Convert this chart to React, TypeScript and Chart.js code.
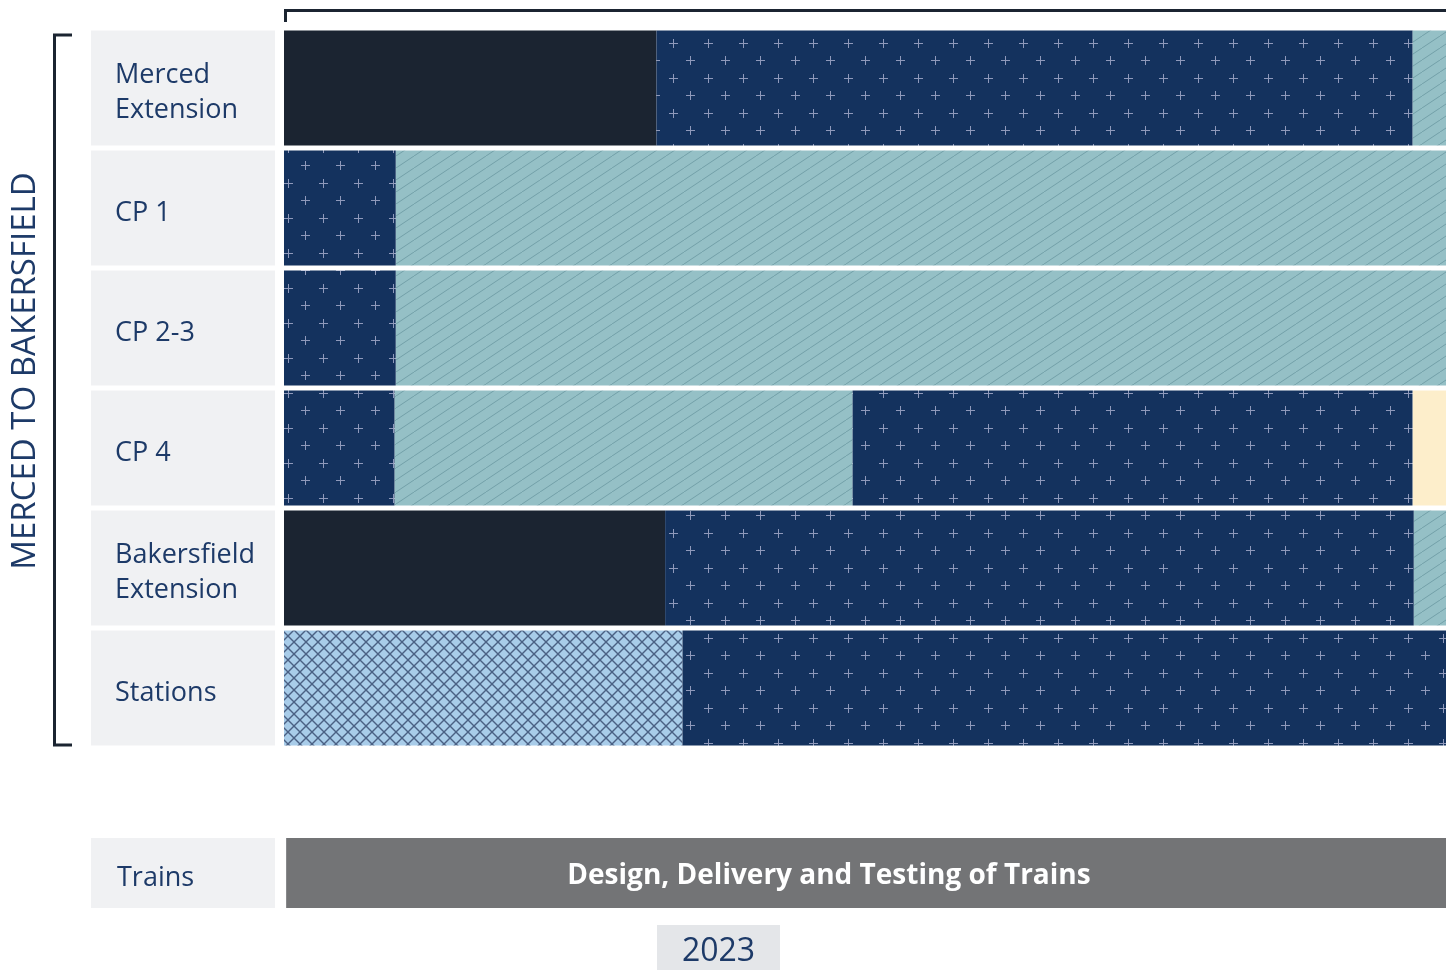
import React, { useEffect, useRef } from 'react';
import { Chart, registerables } from 'chart.js';

Chart.register(...registerables);

// ---------- data ----------
const rowCategories = ['Merced Extension', 'CP 1', 'CP 2-3', 'CP 4', 'Bakersfield Extension', 'Stations'];
const rowLabelLines = [['Merced', 'Extension'], ['CP 1'], ['CP 2-3'], ['CP 4'], ['Bakersfield', 'Extension'], ['Stations']];

// spans in years [start, end]
const designSpans = [[2020, 2023.0], null, null, null, [2020, 2023.07], null];
const constructionSpans = [[2023.0, 2029.09], [2020, 2020.9], [2020, 2020.9], [2020, 2020.89], [2023.07, 2029.1], [2023.21, 2030]];
const constructionSpans2 = [null, null, null, [2024.58, 2029.09], null, null];
const systemsSpans = [[2029.09, 2030], [2020.9, 2030], [2020.9, 2030], [2020.89, 2024.58], [2029.1, 2030], null];
const stationDesignSpans = [null, null, null, null, null, [2020, 2023.21]];
const testingSpans = [null, null, null, [2029.09, 2030], null, null];

const trainsCategories = ['Trains'];
const trainsSpans = [[2020.02, 2030]];
const trainsCaption = 'Design, Delivery and Testing of Trains';
const trainsCaptionAt = 2024.39;

const groupTitle = 'MERCED TO BAKERSFIELD';
const yearMarkers = [2023];
const xMin = 2020;
const xMax = 2029.36;

// ---------- style ----------
const FONT = "'Open Sans', 'Noto Sans', sans-serif";
const NAVY_TEXT = '#1d3a68';
const DARK = '#1b2431';
const NAVY = '#14325e';
const PANEL = '#f0f1f3';

function plusPattern(): CanvasPattern | string {
  const c = document.createElement('canvas');
  c.width = 35; c.height = 35;
  const g = c.getContext('2d');
  if (!g) return NAVY;
  g.fillStyle = NAVY; g.fillRect(0, 0, 35, 35);
  g.fillStyle = '#8f99bb';
  const plus = (cx: number, cy: number) => {
    g.fillRect(cx - 4, cy, 9, 1);
    g.fillRect(cx, cy - 4, 1, 9);
  };
  plus(8, 8); plus(25, 25);
  return g.createPattern(c, 'repeat') as CanvasPattern;
}

function hatchPattern(): CanvasPattern | string {
  const w = 18, h = 12;
  const c = document.createElement('canvas');
  c.width = w; c.height = h;
  const g = c.getContext('2d');
  if (!g) return '#95c0c6';
  g.fillStyle = '#95c0c6'; g.fillRect(0, 0, w, h);
  g.strokeStyle = '#72a0a8'; g.lineWidth = 1;
  for (const dx of [-w, 0, w]) {
    g.beginPath(); g.moveTo(dx, h); g.lineTo(dx + w, 0); g.stroke();
  }
  return g.createPattern(c, 'repeat') as CanvasPattern;
}

function crossPattern(): CanvasPattern | string {
  const s = 12;
  const c = document.createElement('canvas');
  c.width = s; c.height = s;
  const g = c.getContext('2d');
  if (!g) return '#a8cce9';
  g.fillStyle = '#a8cce9'; g.fillRect(0, 0, s, s);
  g.strokeStyle = '#4a6084'; g.lineWidth = 1.4;
  for (const dx of [-s, 0, s]) {
    g.beginPath(); g.moveTo(dx, 0); g.lineTo(dx + s, s); g.stroke();
    g.beginPath(); g.moveTo(dx, s); g.lineTo(dx + s, 0); g.stroke();
  }
  return g.createPattern(c, 'repeat') as CanvasPattern;
}

function drawPanels(chart: any, lines: string[][], textX: number) {
  const ctx = chart.ctx as CanvasRenderingContext2D;
  const meta = chart.getDatasetMeta(0);
  ctx.save();
  meta.data.forEach((el: any, i: number) => {
    const props = el.getProps(['y', 'height'], true);
    const top = props.y - props.height / 2;
    ctx.fillStyle = PANEL;
    ctx.fillRect(91, top, 184, props.height);
    ctx.fillStyle = NAVY_TEXT;
    ctx.font = `27px ${FONT}`;
    ctx.textBaseline = 'middle';
    ctx.textAlign = 'left';
    const lh = 35;
    const ls = lines[i];
    ls.forEach((t, k) => {
      ctx.fillText(t, textX, props.y + (k - (ls.length - 1) / 2) * lh + 5);
    });
  });
  ctx.restore();
}

const mainDecor = {
  id: 'mainDecor',
  afterDraw(chart: any) {
    const ctx = chart.ctx as CanvasRenderingContext2D;
    drawPanels(chart, rowLabelLines, 115);
    const ca = chart.chartArea;
    ctx.save();
    ctx.strokeStyle = DARK;
    ctx.lineWidth = 3;
    // left bracket
    ctx.beginPath();
    ctx.moveTo(72, ca.top + 7);
    ctx.lineTo(54.5, ca.top + 7);
    ctx.lineTo(54.5, ca.bottom - 3);
    ctx.lineTo(72, ca.bottom - 3);
    ctx.stroke();
    // top bracket
    ctx.beginPath();
    ctx.moveTo(ca.left + 1.5, 22);
    ctx.lineTo(ca.left + 1.5, 10.5);
    ctx.lineTo(ca.right, 10.5);
    ctx.stroke();
    // group title
    ctx.translate(26, (ca.top + ca.bottom) / 2 - 17);
    ctx.rotate(-Math.PI / 2);
    ctx.fillStyle = NAVY_TEXT;
    ctx.font = `33px ${FONT}`;
    ctx.textAlign = 'center';
    ctx.textBaseline = 'middle';
    ctx.fillText(groupTitle, 0, 0);
    ctx.restore();
  },
};

const trainsDecor = {
  id: 'trainsDecor',
  afterDraw(chart: any) {
    const ctx = chart.ctx as CanvasRenderingContext2D;
    drawPanels(chart, [['Trains']], 117);
    const x = chart.scales.x;
    const meta = chart.getDatasetMeta(0);
    const el = meta.data[0];
    ctx.save();
    ctx.fillStyle = '#ffffff';
    ctx.font = `bold 28px ${FONT}`;
    ctx.textAlign = 'center';
    ctx.textBaseline = 'middle';
    ctx.fillText(trainsCaption, x.getPixelForValue(trainsCaptionAt), el.y + 3);
    // year marker
    yearMarkers.forEach((yr) => {
      const cx = x.getPixelForValue(yr + 0.5);
      const top = chart.chartArea.bottom + 17;
      ctx.fillStyle = '#e4e6e9';
      ctx.fillRect(cx - 61.5, top, 123, 45);
      ctx.fillStyle = NAVY_TEXT;
      ctx.font = `32px ${FONT}`;
      ctx.fillText(String(yr), cx, top + 27);
    });
    ctx.restore();
  },
};

const baseScales = {
  x: { type: 'linear', min: xMin, max: xMax, display: false },
  y: { type: 'category', display: false },
};

export default function App() {
  const mainRef = useRef<HTMLCanvasElement>(null);
  const trainsRef = useRef<HTMLCanvasElement>(null);

  useEffect(() => {
    if (!mainRef.current || !trainsRef.current) return;
    const plus = plusPattern();
    const hatch = hatchPattern();
    const cross = crossPattern();
    const common = { grouped: false, barPercentage: 0.958, categoryPercentage: 1, borderWidth: 0, borderSkipped: false };
    const main = new Chart(mainRef.current, {
      type: 'bar',
      data: {
        labels: rowCategories,
        datasets: [
          { label: 'Civil Construction', data: constructionSpans as any, backgroundColor: plus, ...common },
          { label: 'Design', data: designSpans as any, backgroundColor: DARK, ...common },
          { label: 'Civil Construction (2nd)', data: constructionSpans2 as any, backgroundColor: plus, ...common },
          { label: 'Track & Systems', data: systemsSpans as any, backgroundColor: hatch, ...common },
          { label: 'Station Design', data: stationDesignSpans as any, backgroundColor: cross, ...common },
          { label: 'Testing', data: testingSpans as any, backgroundColor: '#fdeecb', ...common },
        ],
      },
      options: {
        indexAxis: 'y',
        responsive: false,
        animation: false,
        events: [],
        layout: { padding: { left: 284, right: 0, top: 28, bottom: 12 } },
        scales: baseScales as any,
        plugins: { legend: { display: false }, tooltip: { enabled: false } },
      },
      plugins: [mainDecor],
    });
    const trains = new Chart(trainsRef.current, {
      type: 'bar',
      data: {
        labels: trainsCategories,
        datasets: [
          { label: 'Trains', data: trainsSpans as any, backgroundColor: '#737476', grouped: false, barPercentage: 1, categoryPercentage: 1, borderWidth: 0 },
        ],
      },
      options: {
        indexAxis: 'y',
        responsive: false,
        animation: false,
        events: [],
        layout: { padding: { left: 284, right: 0, top: 18, bottom: 65 } },
        scales: baseScales as any,
        plugins: { legend: { display: false }, tooltip: { enabled: false } },
      },
      plugins: [trainsDecor],
    });
    return () => { main.destroy(); trains.destroy(); };
  }, []);

  return (
    <div style={{ position: 'absolute', left: 0, top: 0, width: 1446, height: 973, background: '#ffffff', overflow: 'hidden' }}>
      <canvas ref={mainRef} width={1446} height={760} style={{ position: 'absolute', left: 0, top: 0, width: 1446, height: 760 }} />
      <canvas ref={trainsRef} width={1446} height={153} style={{ position: 'absolute', left: 0, top: 820, width: 1446, height: 153 }} />
    </div>
  );
}
